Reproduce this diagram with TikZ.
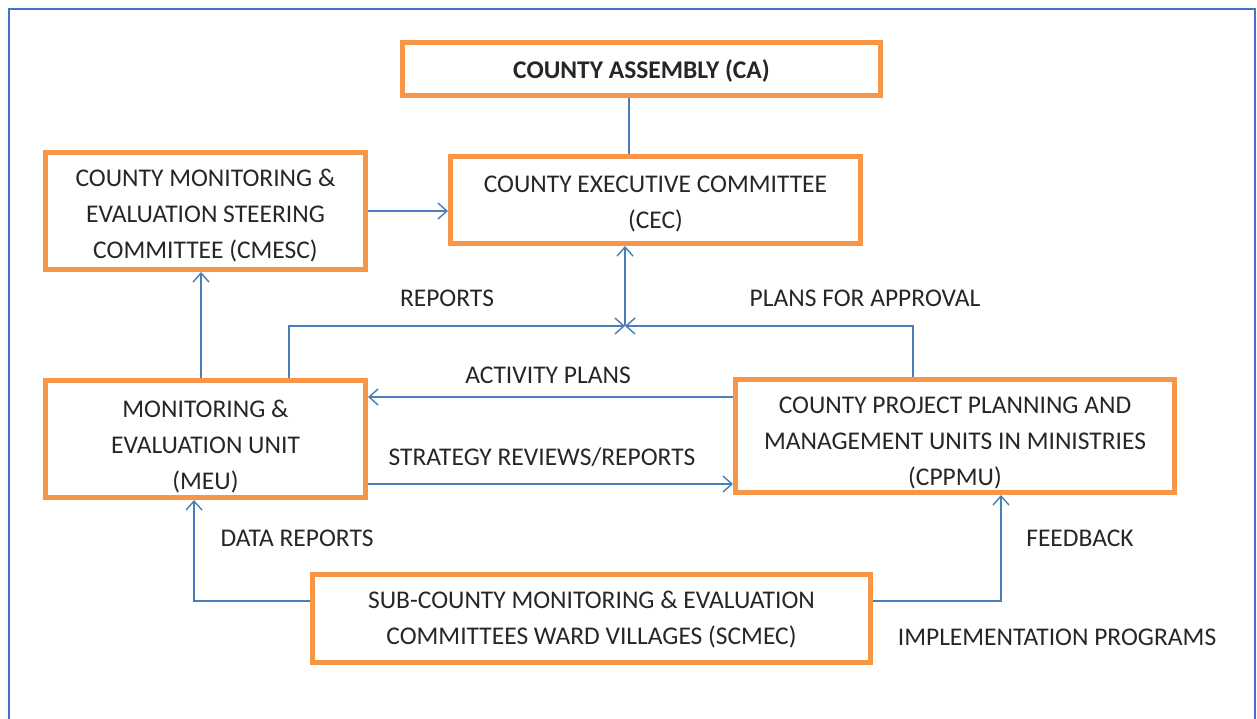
\documentclass[tikz,border=0pt]{standalone}
\usepackage{fontspec}
\setmainfont{Carlito}
\usetikzlibrary{arrows.meta,calc}
\definecolor{boxor}{HTML}{F79646}
\definecolor{lineblue}{HTML}{4A7EBB}
\definecolor{frameblue}{HTML}{4472C4}
\tikzset{
  orgbox/.style={draw=boxor, line width=5pt, inner sep=0pt},
  boxtext/.style={align=center, inner sep=0pt,
    font=\fontsize{25.5}{36}\selectfont, text=black!85},
  conn/.style={draw=lineblue, line width=1.4pt},
  arr/.style={conn, -{Straight Barb[length=9pt,width=16pt,line width=1.4pt]}},
  lbl/.style={font=\fontsize{25.5}{28}\selectfont, text=black!85, inner sep=0pt}
}
\begin{document}
\begin{tikzpicture}[x=1pt,y=-1pt]
\useasboundingbox (0,0) rectangle (1257,719);
\draw[frameblue, line width=2pt] (9,730) -- (9,9) -- (1255,9) -- (1255,730);

\node[orgbox, minimum width=478pt, minimum height=53pt] (ca) at (641.5,69) {};
\node[orgbox, minimum width=410pt, minimum height=87pt] (cec) at (655.5,200) {};
\node[orgbox, minimum width=320pt, minimum height=117pt] (cmesc) at (205.5,211) {};
\node[orgbox, minimum width=320pt, minimum height=117pt] (meu) at (205.5,439) {};
\node[orgbox, minimum width=439pt, minimum height=113pt] (cppmu) at (955,436) {};
\node[orgbox, minimum width=558pt, minimum height=88pt] (scmec) at (591.5,618.5) {};

\node[boxtext] (ca-t) at ([yshift=-2pt]ca.center) {\textbf{COUNTY ASSEMBLY (CA)}};
\node[boxtext] (cec-t) at ([yshift=-4pt]cec.center) {COUNTY EXECUTIVE COMMITTEE\\(CEC)};
\node[boxtext] (cmesc-t) at ([yshift=-5pt]cmesc.center) {COUNTY MONITORING \&\\EVALUATION STEERING\\COMMITTEE (CMESC)};
\node[boxtext] (meu-t) at ([yshift=-8pt]meu.center) {MONITORING \&\\EVALUATION UNIT\\(MEU)};
\node[boxtext] (cppmu-t) at ([yshift=-6.5pt]cppmu.center) {COUNTY PROJECT PLANNING AND\\MANAGEMENT UNITS IN MINISTRIES\\(CPPMU)};
\node[boxtext] (scmec-t) at ([yshift=-1.5pt]scmec.center) {SUB-COUNTY MONITORING \& EVALUATION\\COMMITTEES WARD VILLAGES (SCMEC)};

\coordinate (j) at (625,326);
\coordinate (xr) at (289,0);
\coordinate (xp) at (913,0);
\coordinate (xd) at (194,0);
\coordinate (xf) at (1001,0);
\coordinate (xm) at (201,0);
\coordinate (xc) at (629,0);
\coordinate (ya) at (0,397);
\coordinate (ys) at (0,484);
\coordinate (yl) at (0,601);
\coordinate (yc) at (0,211);

\draw[conn] (ca.south -| xc) -- (cec.north -| xc);
\draw[arr] (cmesc.east |- yc) -- (cec.west |- yc);
\draw[arr] (meu.north -| xm) -- (cmesc.south -| xm);
\draw[arr] (meu.north -| xr) |- (j);
\draw[arr] (cppmu.north -| xp) |- (j);
\draw[arr] (j) -- (cec.south -| j);
\draw[arr] (cppmu.west |- ya) -- (meu.east |- ya);
\draw[arr] (meu.east |- ys) -- (cppmu.west |- ys);
\draw[arr] (scmec.west |- yl) -| (meu.south -| xd);
\draw[arr] (scmec.east |- yl) -| (cppmu.south -| xf);

\node[lbl] (l1) at (447,298) {REPORTS};
\node[lbl] (l2) at (865,298) {PLANS FOR APPROVAL};
\node[lbl] (l3) at (548,375) {ACTIVITY PLANS};
\node[lbl] (l4) at (542,457) {STRATEGY REVIEWS/REPORTS};
\node[lbl] (l5) at (297,538) {DATA REPORTS};
\node[lbl] (l6) at (1080,538) {FEEDBACK};
\node[lbl] (l7) at (1057,637) {IMPLEMENTATION PROGRAMS};
\end{tikzpicture}
\end{document}
